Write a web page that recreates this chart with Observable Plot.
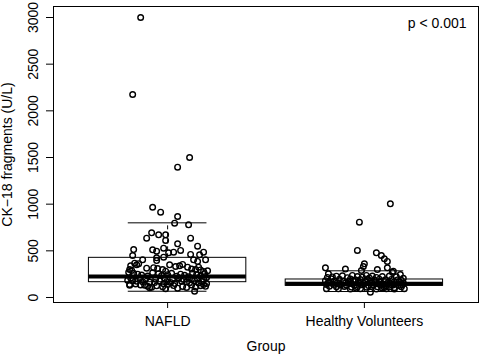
<!DOCTYPE html>
<html>
<head>
<meta charset="utf-8">
<script src="https://cdn.jsdelivr.net/npm/d3@7"></script>
<script src="https://cdn.jsdelivr.net/npm/@observablehq/plot@0.6"></script>
<style>
  html, body { margin: 0; padding: 0; background: white; }
  svg { display: block; }
</style>
</head>
<body>
<div id="chart"></div>
<script>
// Categories
const groups = ["NAFLD", "Healthy Volunteers"];
// Box statistics (U/L)
const q1 = [164, 125];
const medians = [225, 147];
const q3 = [425, 193];
const whiskerLow = [67, 64];
const whiskerHigh = [800, 286];
// Y tick labels
const yTicks = [0, 500, 1000, 1500, 2000, 2500, 3000];
const pText = "p < 0.001";

// Individual observations (U/L) and their horizontal jitter (px estimate, later converted to category units)
const nafldValues = [3000,2175,1500,1396,967,914,868,796,779,693,636,672,672,611,636,575,550,514,511,496,528,479,486,504,486,457,461,450,432,425,404,404,404,396,386,
  368,350,362,340,314,350,332,354,325,325,300,290,310,300,282,279,295,340,320,305,286,300,
  270,260,250,240,230,265,255,235,245,260,228,250,238,222,262,245,230,255,215,210,205,200,195,205,200,210,192,198,202,195,
  185,180,175,170,165,160,178,170,162,150,175,168,158,180,155,170,150,140,130,145,135,120,110,125,104,115,140,95,128,100,118,108,135,112,126,140,132,148,120,67];
const nafldJitter = [-27,-35,22,10,-15,-7,10,7,21,-16,-21,-9,-2,-2,23,10,30,-34,-15,-11,-4,1,6,13,36,32,23,-35,-4,-11,26,38,-25,-11,30,
  -33,-31,-29,-37,-21,2,8,15,20,31,-38,-36,-10,-5,-2,36,33,12,-14,24,40,28,
  -39,-34,-30,-26,-20,-15,-9,-6,0,4,9,13,17,21,25,29,33,37,39,-37,-28,-22,-12,-3,5,11,16,24,30,36,
  -40,-35,-31,-25,-18,-13,-8,-1,3,7,14,19,22,27,31,34,39,-38,-38,-32,-27,-20,-16,-11,-18,-5,0,-2,6,10,15,19,24,28,33,36,-23,-4,38,27];
const hvValues = [1004,807,504,479,450,414,386,361,332,318,318,304,300,289,282,271,254,246,236,225,236,230,228,232,220,225,230,222,215,212,218,210,215,205,
  200,195,198,190,192,195,188,196,190,194,188,185,180,178,175,172,176,170,168,174,170,165,172,166,170,168,
  160,158,155,150,152,148,155,150,145,152,148,156,140,138,135,132,130,136,128,134,130,126,132,129,136,
  120,115,118,112,116,110,118,114,108,112,105,116,95,93,92,94,90,93,92,95,57,100,102];
const hvJitter = [26,-5,-7,12,17,20,23,0,-1,-39,23,-19,13,-3,29,28,-36,36,-12,-7,2,8,-28,-22,-32,18,25,32,-37,-17,-2,5,12,39,
  -33,-25,-14,-9,-4,3,10,15,21,27,33,37,-39,-30,-21,-16,-11,-6,1,6,11,16,20,24,30,35,
  -36,-27,-19,-13,-5,0,8,14,19,26,31,39,-38,-31,-24,-18,-10,-3,4,9,17,22,28,34,38,
  -35,-28,-20,-13,-7,2,7,13,20,25,30,37,-38,-26,-14,-4,12,22,30,40,6,-8,18];

const pxPerUnit = 197;
const stats = groups.map((g, i) => ({
  g: i + 1, name: g, q1: q1[i], med: medians[i], q3: q3[i], lo: whiskerLow[i], hi: whiskerHigh[i]
}));
const points = [
  ...nafldValues.map((v, i) => ({g: 1, v, j: nafldJitter[i] / pxPerUnit})),
  ...hvValues.map((v, i) => ({g: 2, v, j: hvJitter[i] / pxPerUnit}))
];

const font = "'Liberation Sans', Arial, Helvetica, sans-serif";

const chart = Plot.plot({
  width: 480,
  height: 356,
  marginLeft: 53,
  marginRight: 2,
  marginTop: 6,
  marginBottom: 54,
  x: {domain: [0.42, 2.58], axis: null},
  y: {domain: [-53.6, 3117.9], axis: null},
  style: {fontFamily: font, fontSize: "14px", background: "white", color: "black"},
  marks: [
    Plot.frame({stroke: "black"}),
    // y axis ticks (short) and rotated labels
    Plot.axisY(yTicks, {anchor: "left", tickSize: 7, tickFormat: () => "", label: null, stroke: "black"}),
    Plot.text(yTicks, {y: d => d, frameAnchor: "left", dx: -19.5, rotate: -90, text: d => String(d), fontSize: 14, textAnchor: "middle", lineAnchor: "middle"}),
    // x axis ticks and labels
    Plot.axisX(stats.map(d => d.g), {anchor: "bottom", tickSize: 6, tickFormat: () => "", label: null, stroke: "black"}),
    Plot.text(stats, {x: "g", frameAnchor: "bottom", dy: 19, text: "name", fontSize: 14, lineAnchor: "middle"}),
    // boxes
    Plot.rect(stats, {x1: d => d.g - 0.4, x2: d => d.g + 0.4, y1: "q1", y2: "q3", stroke: "black", fill: "none", strokeWidth: 1}),
    Plot.ruleX(stats, {x: "g", y1: "q3", y2: "hi", stroke: "black", strokeDasharray: "4,3"}),
    Plot.ruleX(stats, {x: "g", y1: "lo", y2: "q1", stroke: "black", strokeDasharray: "4,3"}),
    Plot.ruleY(stats, {y: "hi", x1: d => d.g - 0.2, x2: d => d.g + 0.2, stroke: "black"}),
    Plot.ruleY(stats, {y: "lo", x1: d => d.g - 0.2, x2: d => d.g + 0.2, stroke: "black"}),
    Plot.ruleY(stats, {y: "med", x1: d => d.g - 0.4, x2: d => d.g + 0.4, stroke: "black", strokeWidth: 4}),
    // jittered points
    Plot.dot(points, {x: d => d.g + d.j, y: "v", r: 2.8, stroke: "black", strokeWidth: 1.4, fill: "none"}),
    // p-value
    Plot.text([pText], {text: d => d, frameAnchor: "top-right", dx: -12, dy: 17.5, textAnchor: "end", lineAnchor: "middle", fontSize: 14}),
    // axis titles
    Plot.text(["Group"], {text: d => d, frameAnchor: "bottom", dy: 44, lineAnchor: "middle", fontSize: 14}),
    Plot.text(["CK\u221218 fragments (U/L)"], {text: d => d, frameAnchor: "left", dx: -45.5, rotate: -90, textAnchor: "middle", lineAnchor: "middle", fontSize: 14})
  ]
});

document.getElementById("chart").append(chart);
</script>
</body>
</html>
